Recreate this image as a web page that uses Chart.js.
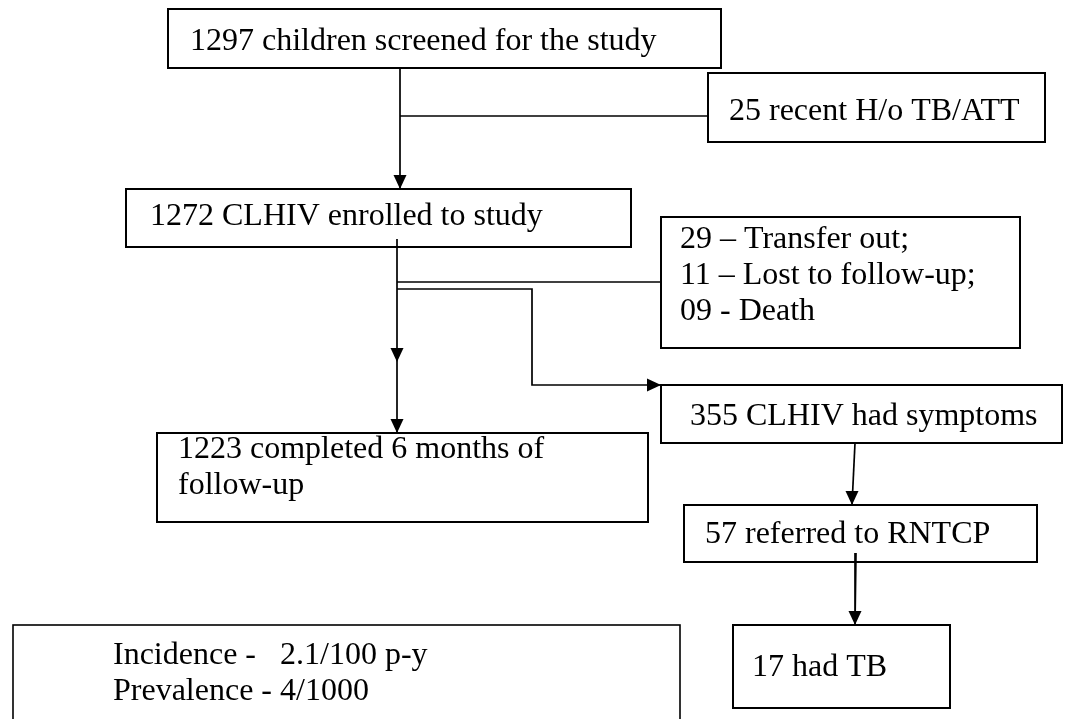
<!DOCTYPE html>
<html><head><meta charset="utf-8">
<script src="https://cdn.jsdelivr.net/npm/chart.js@4.4.0/dist/chart.umd.min.js"></script>
<style>html,body{margin:0;padding:0;background:#fff;}#wrap{width:1067px;height:719px;}</style>
</head><body><div id="wrap"><canvas id="c" width="1067" height="719"></canvas></div>
<script>
// ---- content of the flow (text + counts) ----
const stepLabels = [
  ["1297 children screened for the study"],
  ["25 recent H/o TB/ATT"],
  ["1272 CLHIV enrolled to study"],
  ["29 \u2013 Transfer out;", "11 \u2013 Lost to follow-up;", "09 - Death"],
  ["355 CLHIV had symptoms"],
  ["1223 completed 6 months of", "follow-up"],
  ["57 referred to RNTCP"],
  ["17 had TB"]
];
const summaryLabels = ["Incidence -", "Prevalence -"];
const summaryValues = ["2.1/100 p-y", "4/1000"];

// ---- layout (in scale units: x 0..1067, y 0..719 top-down) ----
// [x0, y0, x1, y1, textX, firstBaseline]
const boxLayout = [
  [168, 9, 721, 68, 190, 50],
  [708, 73, 1045, 142, 729, 120],
  [126, 189, 631, 247, 150, 225],
  [661, 217, 1020, 348, 680, 248],
  [661, 385, 1062, 443, 690, 425],
  [157, 433, 648, 522, 178, 458],
  [684, 505, 1037, 562, 705, 543],
  [733, 625, 950, 708, 752, 676]
];
const summaryBox = [13, 625, 680, 760, 113, 664, 280];
const lineGap = 36;

const connectors = [
  [[400, 68], [400, 189]],
  [[400, 116], [708, 116]],
  [[397, 239], [397, 433]],
  [[397, 282], [661, 282]],
  [[397, 289], [532, 289], [532, 385], [661, 385]],
  [[855, 443], [852, 505]],
  [[856, 553], [855, 625]]
];
// arrow tips [x, y, direction]
const arrowTips = [
  [400, 189, 'down'],
  [397, 362, 'down'],
  [397, 433, 'down'],
  [661, 385, 'right'],
  [852, 505, 'down'],
  [855, 625, 'down']
];

const FONT = '32px "Liberation Serif", "Times New Roman", serif';

const flowPlugin = {
  id: 'flow',
  afterDatasetsDraw(chart) {
    const ctx = chart.ctx, xs = chart.scales.x, ys = chart.scales.y;
    const px = v => xs.getPixelForValue(v), py = v => ys.getPixelForValue(v);
    ctx.save();
    ctx.strokeStyle = '#000';
    ctx.fillStyle = '#000';
    ctx.lineWidth = 2;
    ctx.font = FONT;
    ctx.textBaseline = 'alphabetic';
    ctx.textAlign = 'left';
    boxLayout.forEach((b, i) => {
      ctx.strokeRect(px(b[0]), py(b[1]), px(b[2]) - px(b[0]), py(b[3]) - py(b[1]));
      stepLabels[i].forEach((t, k) => ctx.fillText(t, px(b[4]), py(b[5] + k * lineGap)));
    });
    const s = summaryBox;
    ctx.lineWidth = 1.6;
    ctx.strokeRect(px(s[0]), py(s[1]), px(s[2]) - px(s[0]), py(s[3]) - py(s[1]));
    summaryLabels.forEach((t, k) => {
      ctx.fillText(t, px(s[4]), py(s[5] + k * lineGap));
      ctx.fillText(summaryValues[k], px(s[6]), py(s[5] + k * lineGap));
    });
    // arrowheads
    arrowTips.forEach(a => {
      const x = px(a[0]), y = py(a[1]);
      ctx.beginPath();
      if (a[2] === 'down') {
        ctx.moveTo(x, y); ctx.lineTo(x - 6.5, y - 14); ctx.lineTo(x + 6.5, y - 14);
      } else {
        ctx.moveTo(x, y); ctx.lineTo(x - 14, y - 6.5); ctx.lineTo(x - 14, y + 6.5);
      }
      ctx.closePath();
      ctx.fill();
    });
    ctx.restore();
  }
};

new Chart(document.getElementById('c'), {
  type: 'scatter',
  data: {
    datasets: connectors.map(c => ({
      data: c.map(p => ({x: p[0], y: p[1]})),
      showLine: true,
      borderColor: '#000',
      borderWidth: 1.7,
      pointRadius: 0,
      fill: false,
      tension: 0
    }))
  },
  options: {
    responsive: false,
    animation: false,
    devicePixelRatio: 1,
    layout: {padding: 0},
    plugins: {legend: {display: false}, tooltip: {enabled: false}},
    scales: {
      x: {type: 'linear', min: 0, max: 1067, display: false},
      y: {type: 'linear', min: 0, max: 719, reverse: true, display: false}
    }
  },
  plugins: [flowPlugin]
});
</script>
</body></html>
